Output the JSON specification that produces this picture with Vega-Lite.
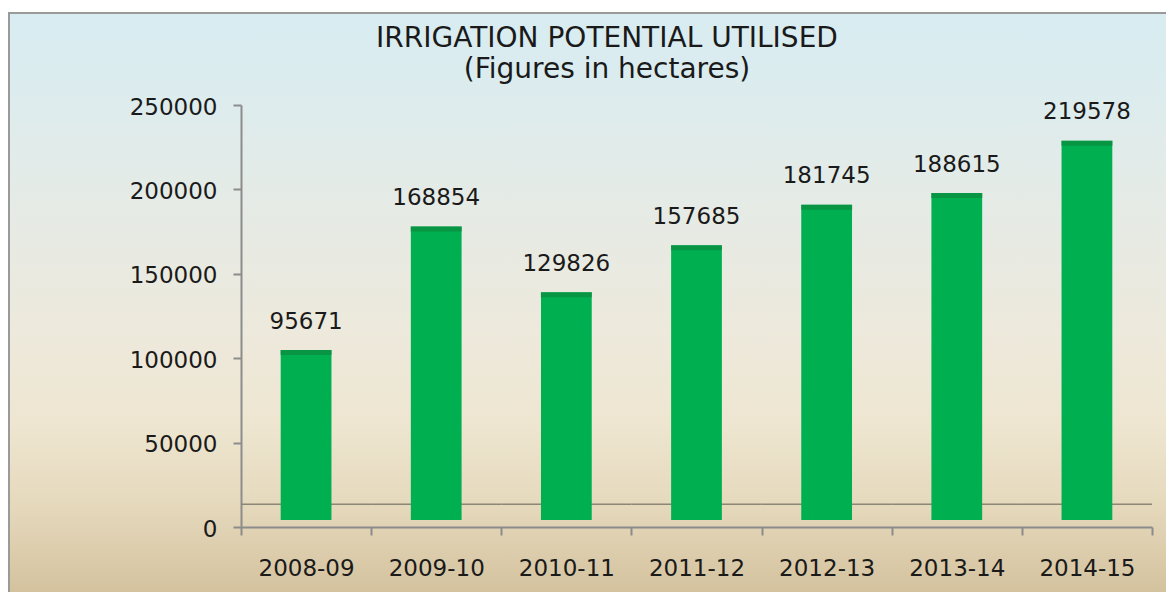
{
  "$schema": "https://vega.github.io/schema/vega-lite/v6.json",
  "width": 1175,
  "height": 595,
  "autosize": {"type": "none"},
  "padding": {"left": 9, "top": 13, "right": -18, "bottom": -16},
  "background": "#ffffff",
  "title": {
    "text": ["IRRIGATION POTENTIAL UTILISED", "(Figures in hectares)"],
    "anchor": "start",
    "frame": "group",
    "align": "center",
    "dx": 598,
    "offset": -71,
    "font": "DejaVu Sans",
    "fontSize": 28,
    "fontWeight": "normal",
    "color": "#1a1a1a",
    "lineHeight": 31
  },
  "config": {
    "view": {
      "fill": {
        "gradient": "linear",
        "x1": 0, "y1": 0, "x2": 0, "y2": 1,
        "stops": [
          {"offset": 0, "color": "#d8ecf1"},
          {"offset": 0.104, "color": "#dbecef"},
          {"offset": 0.314, "color": "#e5ebe6"},
          {"offset": 0.533, "color": "#ede9dc"},
          {"offset": 0.686, "color": "#eee6d1"},
          {"offset": 0.818, "color": "#e6dabe"},
          {"offset": 0.975, "color": "#d4c29e"},
          {"offset": 1, "color": "#d2c09b"}
        ]
      },
      "stroke": "#9a9a9a",
      "strokeWidth": 2
    },
    "axis": {"grid": false}
  },
  "data": {
    "values": [
      {"year": "2008-09", "value": 95671},
      {"year": "2009-10", "value": 168854},
      {"year": "2010-11", "value": 129826},
      {"year": "2011-12", "value": 157685},
      {"year": "2012-13", "value": 181745},
      {"year": "2013-14", "value": 188615},
      {"year": "2014-15", "value": 219578}
    ]
  },
  "encoding": {
    "x": {
      "field": "year",
      "type": "nominal",
      "sort": null,
      "scale": {"range": [232, 1143], "paddingInner": 0, "paddingOuter": 0},
      "axis": {
        "orient": "bottom",
        "offset": -81,
        "title": null,
        "labelAngle": 0,
        "labelFont": "DejaVu Sans",
        "labelFontSize": 23,
        "labelColor": "#1a1a1a",
        "labelPadding": 22,
        "tickSize": 8,
        "tickWidth": 2,
        "tickColor": "#8c8c8c",
        "domainColor": "#8c8c8c",
        "domainWidth": 2,
        "tickBand": "extent"
      }
    }
  },
  "layer": [
    {
      "mark": {"type": "rect", "color": "#8c8677"},
      "encoding": {
        "y": {
          "datum": 13900,
          "type": "quantitative",
          "scale": {"domain": [0, 250000], "range": [514, 92], "nice": false, "zero": true},
          "axis": {
            "orient": "left",
            "offset": -232,
            "title": null,
            "values": [0, 50000, 100000, 150000, 200000, 250000],
            "format": "d",
            "labelFont": "DejaVu Sans",
            "labelFontSize": 23,
            "labelColor": "#1a1a1a",
            "labelPadding": 16,
            "labelOffset": 2,
            "tickSize": 8,
            "tickWidth": 2,
            "tickColor": "#8c8c8c",
            "domainColor": "#8c8c8c",
            "domainWidth": 2
          }
        },
        "y2": {"datum": 13000}
      }
    },
    {
      "mark": {"type": "bar", "color": "#00b050", "width": {"band": 0.39}, "yOffset": -15.5},
      "encoding": {
        "y": {"field": "value", "type": "quantitative"},
        "y2": {"datum": 4150}
      }
    },
    {
      "mark": {"type": "tick", "color": "#0c8a3f", "size": 51, "thickness": 5, "yOffset": -13},
      "encoding": {
        "y": {"field": "value", "type": "quantitative"}
      }
    },
    {
      "mark": {"type": "text", "font": "DejaVu Sans", "fontSize": 23, "color": "#1a1a1a", "baseline": "alphabetic", "yOffset": -15.5, "dy": -21.5},
      "encoding": {
        "y": {"field": "value", "type": "quantitative"},
        "text": {"field": "value", "type": "quantitative", "format": "d"}
      }
    }
  ]
}
